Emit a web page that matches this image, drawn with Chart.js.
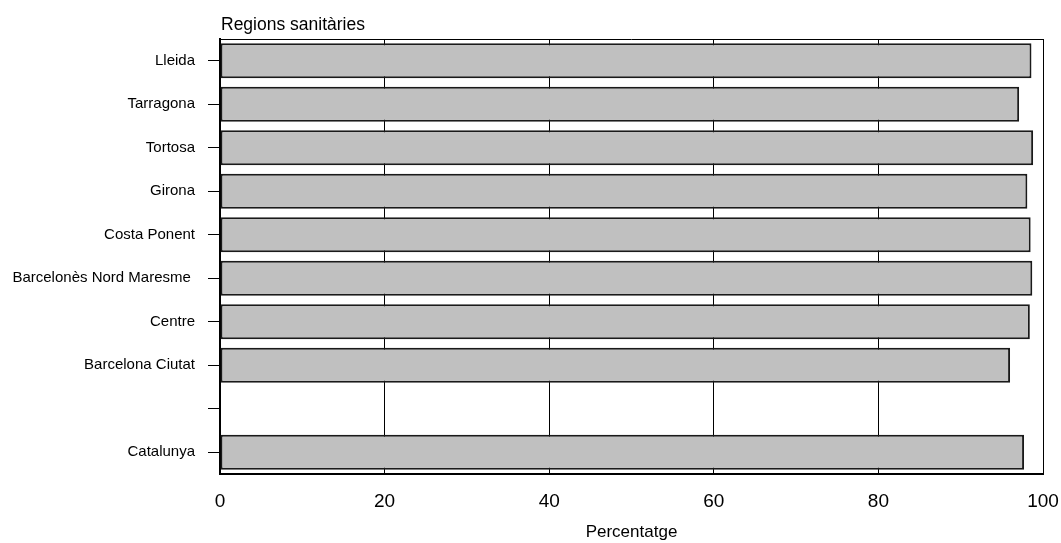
<!DOCTYPE html>
<html>
<head>
<meta charset="utf-8">
<script src="https://cdn.jsdelivr.net/npm/chart.js@4"></script>
<style>
  html, body { margin: 0; padding: 0; background: #fff; }
  #wrap { width: 1061px; height: 543px; position: relative; }
</style>
</head>
<body>
<div id="wrap"><canvas id="c" width="1061" height="543"></canvas></div>
<script>
const categories = ['Lleida', 'Tarragona', 'Tortosa', 'Girona', 'Costa Ponent', 'Barcelonès Nord Maresme ', 'Centre', 'Barcelona Ciutat', '', 'Catalunya'];
const percentValues = [98.6, 97.1, 98.8, 98.1, 98.5, 98.7, 98.4, 96.0, null, 97.7];
const xTickValues = [0, 20, 40, 60, 80, 100];
const yAxisTitle = 'Regions sanitàries';
const xAxisTitle = 'Percentatge';

const FONT = "'Liberation Sans', Arial, sans-serif";

const framePlugin = {
  id: 'frame',
  afterDraw(chart) {
    const { ctx, chartArea } = chart;
    ctx.save();
    ctx.strokeStyle = '#000';
    ctx.lineWidth = 1;
    ctx.beginPath();
    ctx.moveTo(chartArea.left, chartArea.top + 0.5);
    ctx.lineTo(chartArea.right, chartArea.top + 0.5);
    ctx.stroke();
    ctx.fillStyle = '#000';
    ctx.font = '17.5px ' + FONT;
    ctx.textAlign = 'left';
    ctx.textBaseline = 'alphabetic';
    ctx.fillText(yAxisTitle, chartArea.left + 1, 30);
    ctx.restore();
  }
};

new Chart(document.getElementById('c'), {
  type: 'bar',
  data: {
    labels: categories,
    datasets: [{
      data: percentValues,
      backgroundColor: '#c0c0c0',
      borderColor: '#1a1a1a',
      borderWidth: 2,
      borderSkipped: false,
      categoryPercentage: 1.0,
      barPercentage: 0.8
    }]
  },
  options: {
    indexAxis: 'y',
    responsive: false,
    animation: false,
    devicePixelRatio: 1,
    layout: { padding: { top: 39, right: 18, left: 0, bottom: 0 } },
    plugins: { legend: { display: false }, tooltip: { enabled: false }, title: { display: false } },
    scales: {
      x: {
        min: 0, max: 100,
        afterBuildTicks(scale) { scale.ticks = xTickValues.map(v => ({ value: v })); },
        afterFit(scale) { scale.height = 69; scale.paddingLeft = 0; scale.paddingRight = 0; },
        grid: { color: '#000', lineWidth: 1, drawTicks: false },
        border: { color: '#000', width: 2 },
        ticks: { font: { family: FONT, size: 19 }, color: '#000', padding: 16, maxRotation: 0 },
        title: { display: true, text: xAxisTitle, font: { family: FONT, size: 17 }, color: '#000', padding: { top: 4, bottom: 0 } }
      },
      y: {
        afterFit(scale) { scale.width = 220; scale.paddingTop = 0; scale.paddingBottom = 0; },
        grid: { offset: false, drawOnChartArea: false, drawTicks: true, tickLength: 12, color: '#000', lineWidth: 1 },
        border: { color: '#000', width: 2 },
        ticks: { font: { family: FONT, size: 15 }, color: '#000', padding: 13 }
      }
    }
  },
  plugins: [framePlugin]
});
</script>
</body>
</html>
